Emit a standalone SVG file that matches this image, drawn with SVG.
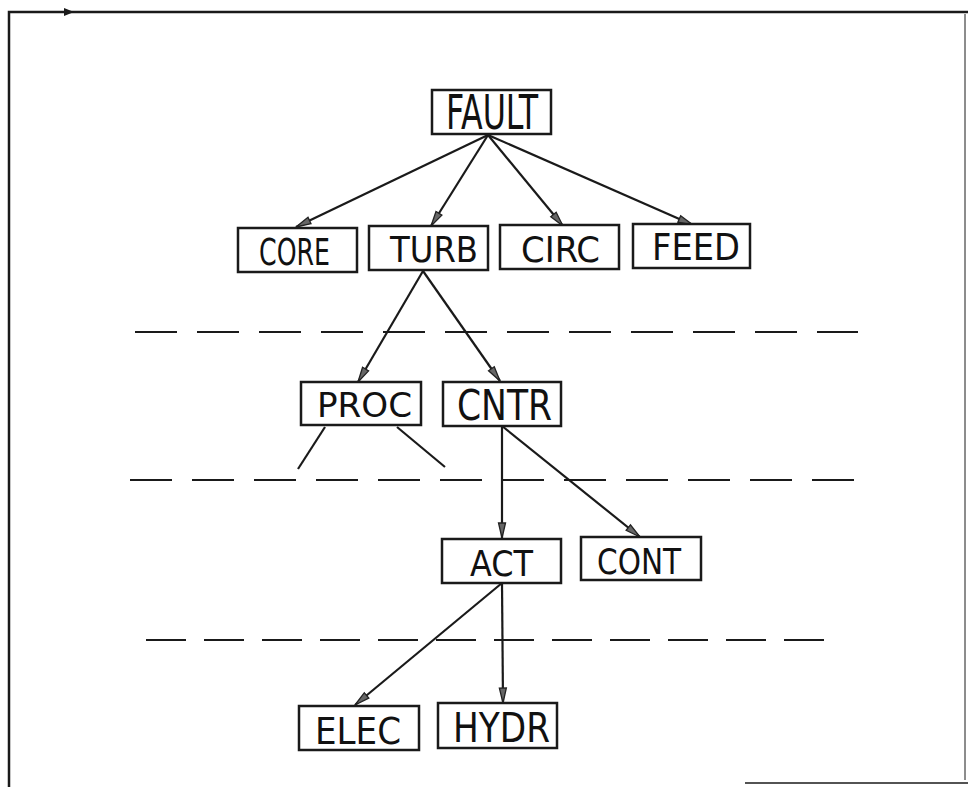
<svg xmlns="http://www.w3.org/2000/svg" width="968" height="787" viewBox="0 0 968 787">
<defs>
<marker id="ah" markerWidth="18" markerHeight="10" refX="16" refY="5" orient="auto" markerUnits="userSpaceOnUse">
<path d="M1,1.5 L16,5 L1,8.5 Z" fill="#666" stroke="#222" stroke-width="1.3"/>
</marker>
<style>
.box{fill:#fff;stroke:#1a1a1a;stroke-width:2.5}
.lbl{font-family:"DejaVu Sans Condensed","DejaVu Sans",sans-serif;fill:#111;text-anchor:start}
.edge{stroke:#1a1a1a;stroke-width:2.2;fill:none}
.dash{stroke:#1a1a1a;stroke-width:2.2;fill:none;stroke-dasharray:42 20}
.frame{stroke:#1a1a1a;fill:none}
</style>
</defs>
<rect width="968" height="787" fill="#fff"/>
<g id="frame">
<path class="frame" stroke-width="2.5" d="M9,787 L9,12 L968,12"/>
<path d="M64,8 L74,12 L64,16 Z" fill="#1a1a1a"/>
<path class="frame" stroke="#ccc" stroke-width="1" d="M965,14 L965,780"/>
<path class="frame" stroke="#aaa" stroke-width="1.5" d="M745,783 L968,783"/>
</g>
<g id="levels">
<line class="dash" x1="135" y1="332" x2="858" y2="332"/>
<line class="dash" x1="130" y1="480" x2="858" y2="480"/>
<line class="dash" x1="146" y1="640" x2="838" y2="640" style="stroke-dasharray:40 18"/>
</g>
<g id="connectors">
<line class="edge" x1="488" y1="135" x2="296" y2="227" marker-end="url(#ah)"/>
<line class="edge" x1="488" y1="135" x2="431" y2="226" marker-end="url(#ah)"/>
<line class="edge" x1="488" y1="135" x2="563" y2="226" marker-end="url(#ah)"/>
<line class="edge" x1="488" y1="135" x2="693" y2="225" marker-end="url(#ah)"/>
<line class="edge" x1="423" y1="271" x2="358" y2="382" marker-end="url(#ah)"/>
<line class="edge" x1="423" y1="271" x2="500" y2="381" marker-end="url(#ah)"/>
<line class="edge" x1="325" y1="427" x2="298" y2="469"/>
<line class="edge" x1="397" y1="427" x2="445" y2="467"/>
<line class="edge" x1="502" y1="426" x2="502" y2="538" marker-end="url(#ah)"/>
<line class="edge" x1="502" y1="426" x2="640" y2="537" marker-end="url(#ah)"/>
<line class="edge" x1="502" y1="583" x2="355" y2="705" marker-end="url(#ah)"/>
<line class="edge" x1="502" y1="583" x2="503" y2="703" marker-end="url(#ah)"/>
</g>
<g id="FAULT"><rect class="box" x="432" y="90" width="119" height="44"/><text class="lbl" x="446" y="129" font-size="48" textLength="92" lengthAdjust="spacingAndGlyphs">FAULT</text></g>
<g id="CORE"><rect class="box" x="238" y="228" width="119" height="44"/><text class="lbl" x="259" y="265" font-size="37" textLength="71" lengthAdjust="spacingAndGlyphs">CORE</text></g>
<g id="TURB"><rect class="box" x="369" y="226" width="119" height="44"/><text class="lbl" x="390" y="262" font-size="36" textLength="88" lengthAdjust="spacingAndGlyphs">TURB</text></g>
<g id="CIRC"><rect class="box" x="500" y="225" width="119" height="44"/><text class="lbl" x="521" y="262" font-size="36" textLength="79" lengthAdjust="spacingAndGlyphs">CIRC</text></g>
<g id="FEED"><rect class="box" x="633" y="224" width="117" height="44"/><text class="lbl" x="652" y="260" font-size="37" textLength="88" lengthAdjust="spacingAndGlyphs">FEED</text></g>
<g id="PROC"><rect class="box" x="301" y="382" width="120" height="43"/><text class="lbl" x="317" y="417" font-size="34" textLength="95" lengthAdjust="spacingAndGlyphs">PROC</text></g>
<g id="CNTR"><rect class="box" x="443" y="382" width="118" height="44"/><text class="lbl" x="457" y="420" font-size="42" textLength="95" lengthAdjust="spacingAndGlyphs">CNTR</text></g>
<g id="ACT"><rect class="box" x="442" y="539" width="119" height="44"/><text class="lbl" x="470" y="576" font-size="36" textLength="63" lengthAdjust="spacingAndGlyphs">ACT</text></g>
<g id="CONT"><rect class="box" x="581" y="537" width="120" height="43"/><text class="lbl" x="597" y="574" font-size="36" textLength="84" lengthAdjust="spacingAndGlyphs">CONT</text></g>
<g id="ELEC"><rect class="box" x="299" y="706" width="120" height="44"/><text class="lbl" x="315" y="744" font-size="38" textLength="86" lengthAdjust="spacingAndGlyphs">ELEC</text></g>
<g id="HYDR"><rect class="box" x="438" y="703" width="119" height="45"/><text class="lbl" x="453" y="742" font-size="40" textLength="97" lengthAdjust="spacingAndGlyphs">HYDR</text></g>
</svg>
